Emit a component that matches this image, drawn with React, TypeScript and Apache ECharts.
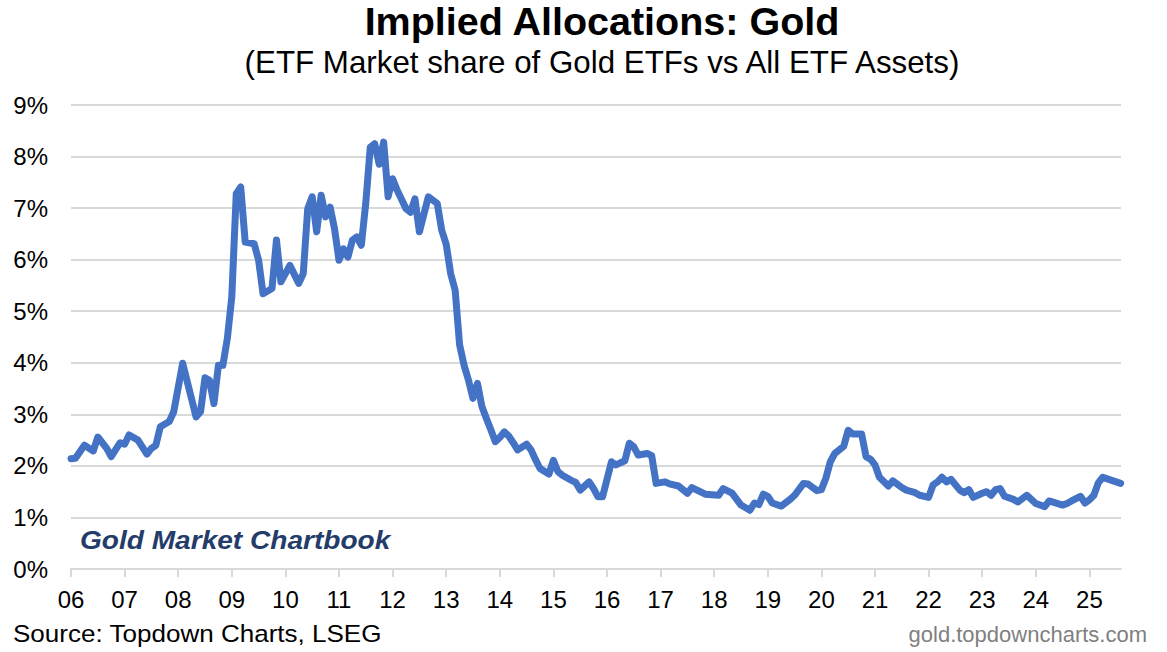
import React, { useEffect, useRef } from "react";
import * as echarts from "echarts";

// month index from Jan 2006 (0 = 2006-01)
const monthIndex: number[] = [
  0, 1, 3, 5, 6, 8, 9, 11, 12, 13, 15, 17, 18, 19, 20, 22, 23, 25, 28, 29,
  30, 31, 32, 33, 34, 35, 36, 37, 38, 39, 41, 42, 43, 45, 46, 47, 49, 51, 52, 53,
  54, 55, 56, 57, 58, 59, 60, 61, 62, 63, 64, 65, 66, 67, 68, 69, 70, 71, 72, 73,
  75, 76, 77, 78, 80, 82, 83, 84, 85, 86, 87, 88, 89, 90, 91, 92, 93, 94, 95, 96,
  97, 98, 99, 100, 102, 103, 104, 105, 107, 108, 109, 110, 111, 112, 113, 114, 116, 117, 118, 119,
  121, 122, 124, 125, 126, 127, 129, 130, 131, 133, 134, 136, 138, 139, 142, 145, 146, 148, 150, 152,
  153, 154, 155, 156, 157, 159, 161, 162, 164, 165, 167, 168, 169, 170, 171, 173, 174, 175, 177, 178,
  179, 180, 181, 183, 184, 186, 187, 189, 190, 192, 193, 194, 195, 196, 197, 199, 200, 201, 202, 204,
  205, 206, 207, 208, 209, 211, 212, 214, 215, 216, 218, 219, 222, 223, 224, 226, 227, 228, 229, 230,
  231, 233, 235,
];

// Gold ETF share of all ETF assets, %
const goldShare: number[] = [
  2.14, 2.15, 2.40, 2.29, 2.56, 2.34, 2.18, 2.45, 2.42, 2.60, 2.50, 2.23, 2.34, 2.40, 2.76, 2.86, 3.05, 3.99, 2.95, 3.05,
  3.71, 3.66, 3.21, 3.95, 3.95, 4.47, 5.28, 7.28, 7.41, 6.34, 6.31, 5.99, 5.34, 5.44, 6.38, 5.57, 5.89, 5.54, 5.73, 6.99,
  7.22, 6.54, 7.25, 6.83, 7.02, 6.60, 5.99, 6.21, 6.05, 6.38, 6.44, 6.28, 7.10, 8.18, 8.25, 7.85, 8.28, 7.22, 7.57, 7.35,
  6.99, 6.92, 7.18, 6.54, 7.22, 7.09, 6.57, 6.30, 5.73, 5.41, 4.35, 3.95, 3.66, 3.31, 3.60, 3.15, 2.92, 2.70, 2.47, 2.55,
  2.66, 2.58, 2.45, 2.31, 2.42, 2.31, 2.12, 1.95, 1.84, 2.11, 1.89, 1.82, 1.77, 1.72, 1.68, 1.53, 1.69, 1.56, 1.40, 1.40,
  2.08, 2.02, 2.10, 2.44, 2.37, 2.21, 2.24, 2.20, 1.66, 1.69, 1.65, 1.61, 1.47, 1.58, 1.45, 1.43, 1.56, 1.47, 1.24, 1.14,
  1.28, 1.25, 1.45, 1.41, 1.28, 1.22, 1.35, 1.43, 1.66, 1.65, 1.52, 1.54, 1.76, 2.08, 2.24, 2.38, 2.69, 2.62, 2.62, 2.18,
  2.13, 2.02, 1.78, 1.61, 1.71, 1.58, 1.53, 1.48, 1.43, 1.39, 1.63, 1.69, 1.78, 1.69, 1.74, 1.53, 1.48, 1.54, 1.39, 1.47,
  1.50, 1.43, 1.54, 1.56, 1.41, 1.35, 1.30, 1.43, 1.35, 1.27, 1.21, 1.32, 1.24, 1.27, 1.32, 1.41, 1.28, 1.34, 1.43, 1.67,
  1.78, 1.72, 1.66,
];

const yearTicks: number[] = [
  2006, 2007, 2008, 2009, 2010, 2011, 2012, 2013, 2014, 2015,
  2016, 2017, 2018, 2019, 2020, 2021, 2022, 2023, 2024, 2025,
];

const TITLE = "Implied Allocations: Gold";
const SUBTITLE = "(ETF Market share of Gold ETFs vs All ETF Assets)";
const WATERMARK = "Gold Market Chartbook";
const SOURCE = "Source: Topdown Charts, LSEG";
const SITE = "gold.topdowncharts.com";

export default function App() {
  const ref = useRef<HTMLDivElement>(null);
  useEffect(() => {
    document.body.style.margin = "0";
    if (!ref.current) return;
    const chart = echarts.init(ref.current, undefined, { renderer: "svg" });
    const data = monthIndex.map((m, i) => [2006 + m / 12, goldShare[i]]);
    const font = "'Liberation Sans', Arial, sans-serif";
    chart.setOption({
      animation: false,
      backgroundColor: "#ffffff",
      grid: { left: 71, right: 46, top: 105, bottom: 83 },
      xAxis: {
        type: "value",
        min: 2006,
        max: 2025.59,
        interval: 1,
        axisLine: { show: true, lineStyle: { color: "#d9d9d9", width: 2 } },
        axisTick: {
          show: true,
          length: 8,
          customValues: yearTicks,
          lineStyle: { color: "#d9d9d9", width: 2 },
        },
        axisLabel: {
          customValues: yearTicks,
          margin: 18,
          color: "#000000",
          fontSize: 24,
          fontFamily: font,
          formatter: (v: number) => String(Math.round(v) % 100).padStart(2, "0"),
        },
        splitLine: { show: false },
      },
      yAxis: {
        type: "value",
        min: 0,
        max: 9,
        interval: 1,
        axisLine: { show: false },
        axisTick: { show: false },
        axisLabel: {
          margin: 23,
          color: "#000000",
          fontSize: 24,
          fontFamily: font,
          formatter: (v: number) => `${v}%`,
        },
        splitLine: { show: true, lineStyle: { color: "#d9d9d9", width: 2 } },
      },
      series: [
        {
          type: "line",
          data,
          showSymbol: false,
          symbol: "none",
          lineStyle: { color: "#4472c4", width: 7, join: "round", cap: "round" },
        },
      ],
      graphic: [
        {
          type: "text",
          x: 602,
          y: 21,
          style: {
            text: TITLE,
            fill: "#000000",
            font: `bold 39.5px ${font}`,
            textAlign: "center",
            textVerticalAlign: "middle",
          },
        },
        {
          type: "text",
          x: 602,
          y: 62,
          style: {
            text: SUBTITLE,
            fill: "#000000",
            font: `31.3px ${font}`,
            textAlign: "center",
            textVerticalAlign: "middle",
          },
        },
        {
          type: "text",
          x: 80,
          y: 540,
          scaleX: 1.08,
          style: {
            text: WATERMARK,
            fill: "#243c6a",
            font: `italic bold 26px ${font}`,
            textAlign: "left",
            textVerticalAlign: "middle",
          },
        },
        {
          type: "text",
          x: 13,
          y: 633,
          scaleX: 1.085,
          style: {
            text: SOURCE,
            fill: "#000000",
            font: `24px ${font}`,
            textAlign: "left",
            textVerticalAlign: "middle",
          },
        },
        {
          type: "text",
          x: 1147,
          y: 634,
          style: {
            text: SITE,
            fill: "#7f7f7f",
            font: `22px ${font}`,
            textAlign: "right",
            textVerticalAlign: "middle",
          },
        },
      ],
    });
    return () => chart.dispose();
  }, []);
  return <div ref={ref} style={{ width: 1167, height: 652 }} />;
}
